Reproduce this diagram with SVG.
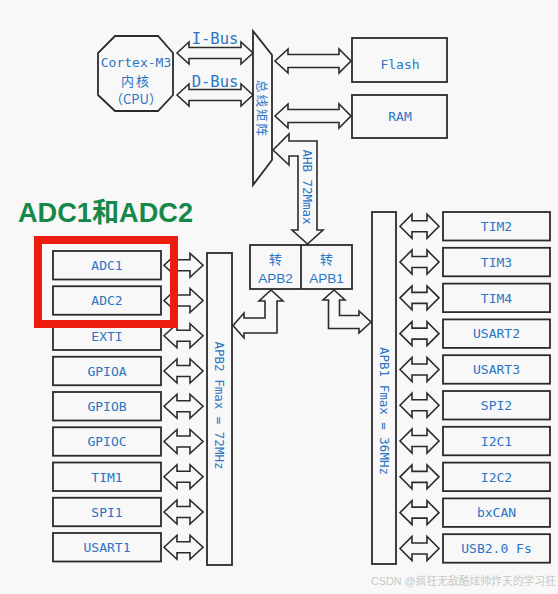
<svg xmlns="http://www.w3.org/2000/svg" width="558" height="594" viewBox="0 0 558 594">
<defs>
<style>
.bx{fill:#f8f8f8;stroke:#2b2b2b;stroke-width:1.8}
.ar{fill:#f8f8f8;stroke:#2b2b2b;stroke-width:1.6;stroke-linejoin:miter}
.t{font-family:"DejaVu Sans Mono","Noto Sans CJK SC",monospace;font-size:13px;fill:#2a75c4;text-anchor:middle}
.v{font-family:"DejaVu Sans Mono","Noto Sans CJK SC",monospace;font-size:12.5px;fill:#2a75c4;text-anchor:middle;dominant-baseline:central}
.cj{font-family:"Noto Sans CJK SC",sans-serif}
</style>
</defs>
<rect width="558" height="594" fill="#f8f8f8"/>

<g id="cpu">
<polygon class="bx" points="115,36 158,36 173,53 173,95 158,111 115,111 98,95 98,53"/>
<text class="t" x="136" y="66.5">Cortex-M3</text>
<text class="t cj" x="136" y="86" style="letter-spacing:2px">内核</text>
<text class="t cj" x="136" y="104">（CPU）</text>
</g>

<g id="bus-matrix">
<polygon class="bx" points="253,31 272,55 272,160 253,185"/>
<text class="v cj" transform="translate(262,109) rotate(90)" style="letter-spacing:2px">总线矩阵</text>
</g>

<g id="flash"><rect class="bx" x="352" y="38" width="95" height="44"/><text class="t" x="400" y="68.5">Flash</text></g>
<g id="ram"><rect class="bx" x="352" y="95" width="95" height="43"/><text class="t" x="400" y="121">RAM</text></g>

<g id="bridge">
<rect class="bx" x="250" y="245" width="102" height="44"/>
<line x1="301" y1="245" x2="301" y2="289" stroke="#2b2b2b" stroke-width="1.8"/>
<text class="t cj" x="275.5" y="264">转</text>
<text class="t" x="275.5" y="282.5" style="font-family:'Liberation Sans',sans-serif;font-size:13.5px">APB2</text>
<text class="t cj" x="326.5" y="264">转</text>
<text class="t" x="326.5" y="282.5" style="font-family:'Liberation Sans',sans-serif;font-size:13.5px">APB1</text>
</g>

<g id="apb2-bus">
<rect class="bx" x="207" y="253" width="25" height="312"/>
<text class="v" transform="translate(219.5,405.5) rotate(90)">APB2 Fmax = 72MHz</text>
</g>
<g id="apb1-bus">
<rect class="bx" x="372" y="212" width="24" height="352"/>
<text class="v" transform="translate(384,411) rotate(90)">APB1 Fmax = 36MHz</text>
</g>

<g id="adc1"><rect class="bx" x="53" y="251" width="108" height="28.5"/><text class="t" x="107" y="270">ADC1</text></g>
<g id="adc2"><rect class="bx" x="53" y="286.25" width="108" height="28.5"/><text class="t" x="107" y="305.25">ADC2</text></g>
<g id="exti"><rect class="bx" x="53" y="321.5" width="108" height="28.5"/><text class="t" x="107" y="340.5">EXTI</text></g>
<g id="gpioa"><rect class="bx" x="53" y="356.75" width="108" height="28.5"/><text class="t" x="107" y="375.75">GPIOA</text></g>
<g id="gpiob"><rect class="bx" x="53" y="392" width="108" height="28.5"/><text class="t" x="107" y="411">GPIOB</text></g>
<g id="gpioc"><rect class="bx" x="53" y="427.25" width="108" height="28.5"/><text class="t" x="107" y="446.25">GPIOC</text></g>
<g id="tim1"><rect class="bx" x="53" y="462.5" width="108" height="28.5"/><text class="t" x="107" y="481.5">TIM1</text></g>
<g id="spi1"><rect class="bx" x="53" y="497.75" width="108" height="28.5"/><text class="t" x="107" y="516.75">SPI1</text></g>
<g id="usart1"><rect class="bx" x="53" y="533" width="108" height="28.5"/><text class="t" x="107" y="552">USART1</text></g>

<g id="tim2"><rect class="bx" x="443" y="212" width="107" height="28.5"/><text class="t" x="496.5" y="231">TIM2</text></g>
<g id="tim3"><rect class="bx" x="443" y="247.8" width="107" height="28.5"/><text class="t" x="496.5" y="266.8">TIM3</text></g>
<g id="tim4"><rect class="bx" x="443" y="283.6" width="107" height="28.5"/><text class="t" x="496.5" y="302.6">TIM4</text></g>
<g id="usart2"><rect class="bx" x="443" y="319.4" width="107" height="28.5"/><text class="t" x="496.5" y="338.4">USART2</text></g>
<g id="usart3"><rect class="bx" x="443" y="355.2" width="107" height="28.5"/><text class="t" x="496.5" y="374.2">USART3</text></g>
<g id="spi2"><rect class="bx" x="443" y="391" width="107" height="28.5"/><text class="t" x="496.5" y="410">SPI2</text></g>
<g id="i2c1"><rect class="bx" x="443" y="426.8" width="107" height="28.5"/><text class="t" x="496.5" y="445.8">I2C1</text></g>
<g id="i2c2"><rect class="bx" x="443" y="462.6" width="107" height="28.5"/><text class="t" x="496.5" y="481.6">I2C2</text></g>
<g id="bxcan"><rect class="bx" x="443" y="498.4" width="107" height="28.5"/><text class="t" x="496.5" y="517.4">bxCAN</text></g>
<g id="usb"><rect class="bx" x="443" y="534.2" width="107" height="28.5"/><text class="t" x="496.5" y="553.2">USB2.0 Fs</text></g>

<g id="connectors">
<path class="ar" d="M177,53 L189,42 L189,47.5 L241,47.5 L241,42 L253,53 L241,64 L241,58.5 L189,58.5 L189,64 Z"/>
<path class="ar" d="M177,95 L189,84 L189,89.5 L241,89.5 L241,84 L253,95 L241,106 L241,100.5 L189,100.5 L189,106 Z"/>
<path class="ar" d="M275,61 L288,49 L288,54.5 L339,54.5 L339,49 L351,61 L339,73 L339,67.5 L288,67.5 L288,73 Z"/>
<path class="ar" d="M275,116 L288,104 L288,109.5 L339,109.5 L339,104 L351,116 L339,128 L339,122.5 L288,122.5 L288,128 Z"/>
<path class="ar" d="M273,150 L289,134 L289,141 L317,141 L317,230 L323,230 L307.5,244 L292,230 L298,230 L298,156 L289,156 L289,165 Z"/>
<path class="ar" d="M271,290 L283,301 L277,301 L277,333 L244,333 L244,338 L233,325.5 L244,313 L244,318 L265,318 L265,301 L259,301 Z"/>
<path class="ar" d="M334,290 L345,300 L339.5,300 L339.5,315.5 L359,315.5 L359,311 L371,322 L359,333 L359,328.5 L328.5,328.5 L328.5,300 L323,300 Z"/>
<g id="apb2-arrows">
<path class="ar" d="M164,265.25 L177,253.25 L177,259.75 L190,259.75 L190,253.25 L203,265.25 L190,277.25 L190,270.75 L177,270.75 L177,277.25 Z"/>
<path class="ar" transform="translate(0,35.25)" d="M164,265.25 L177,253.25 L177,259.75 L190,259.75 L190,253.25 L203,265.25 L190,277.25 L190,270.75 L177,270.75 L177,277.25 Z"/>
<path class="ar" transform="translate(0,70.5)" d="M164,265.25 L177,253.25 L177,259.75 L190,259.75 L190,253.25 L203,265.25 L190,277.25 L190,270.75 L177,270.75 L177,277.25 Z"/>
<path class="ar" transform="translate(0,105.75)" d="M164,265.25 L177,253.25 L177,259.75 L190,259.75 L190,253.25 L203,265.25 L190,277.25 L190,270.75 L177,270.75 L177,277.25 Z"/>
<path class="ar" transform="translate(0,141)" d="M164,265.25 L177,253.25 L177,259.75 L190,259.75 L190,253.25 L203,265.25 L190,277.25 L190,270.75 L177,270.75 L177,277.25 Z"/>
<path class="ar" transform="translate(0,176.25)" d="M164,265.25 L177,253.25 L177,259.75 L190,259.75 L190,253.25 L203,265.25 L190,277.25 L190,270.75 L177,270.75 L177,277.25 Z"/>
<path class="ar" transform="translate(0,211.5)" d="M164,265.25 L177,253.25 L177,259.75 L190,259.75 L190,253.25 L203,265.25 L190,277.25 L190,270.75 L177,270.75 L177,277.25 Z"/>
<path class="ar" transform="translate(0,246.75)" d="M164,265.25 L177,253.25 L177,259.75 L190,259.75 L190,253.25 L203,265.25 L190,277.25 L190,270.75 L177,270.75 L177,277.25 Z"/>
<path class="ar" transform="translate(0,282)" d="M164,265.25 L177,253.25 L177,259.75 L190,259.75 L190,253.25 L203,265.25 L190,277.25 L190,270.75 L177,270.75 L177,277.25 Z"/>
</g>
<g id="apb1-arrows">
<path class="ar" d="M400,226.25 L412,214.25 L412,220.75 L427,220.75 L427,214.25 L439,226.25 L427,238.25 L427,231.75 L412,231.75 L412,238.25 Z"/>
<path class="ar" transform="translate(0,35.8)" d="M400,226.25 L412,214.25 L412,220.75 L427,220.75 L427,214.25 L439,226.25 L427,238.25 L427,231.75 L412,231.75 L412,238.25 Z"/>
<path class="ar" transform="translate(0,71.6)" d="M400,226.25 L412,214.25 L412,220.75 L427,220.75 L427,214.25 L439,226.25 L427,238.25 L427,231.75 L412,231.75 L412,238.25 Z"/>
<path class="ar" transform="translate(0,107.4)" d="M400,226.25 L412,214.25 L412,220.75 L427,220.75 L427,214.25 L439,226.25 L427,238.25 L427,231.75 L412,231.75 L412,238.25 Z"/>
<path class="ar" transform="translate(0,143.2)" d="M400,226.25 L412,214.25 L412,220.75 L427,220.75 L427,214.25 L439,226.25 L427,238.25 L427,231.75 L412,231.75 L412,238.25 Z"/>
<path class="ar" transform="translate(0,179)" d="M400,226.25 L412,214.25 L412,220.75 L427,220.75 L427,214.25 L439,226.25 L427,238.25 L427,231.75 L412,231.75 L412,238.25 Z"/>
<path class="ar" transform="translate(0,214.8)" d="M400,226.25 L412,214.25 L412,220.75 L427,220.75 L427,214.25 L439,226.25 L427,238.25 L427,231.75 L412,231.75 L412,238.25 Z"/>
<path class="ar" transform="translate(0,250.6)" d="M400,226.25 L412,214.25 L412,220.75 L427,220.75 L427,214.25 L439,226.25 L427,238.25 L427,231.75 L412,231.75 L412,238.25 Z"/>
<path class="ar" transform="translate(0,286.4)" d="M400,226.25 L412,214.25 L412,220.75 L427,220.75 L427,214.25 L439,226.25 L427,238.25 L427,231.75 L412,231.75 L412,238.25 Z"/>
<path class="ar" transform="translate(0,322.2)" d="M400,226.25 L412,214.25 L412,220.75 L427,220.75 L427,214.25 L439,226.25 L427,238.25 L427,231.75 L412,231.75 L412,238.25 Z"/>
</g>
<text class="t" x="215" y="44" style="font-size:15.5px">I-Bus</text>
<text class="t" x="215" y="87" style="font-size:15.5px">D-Bus</text>
<text class="v" transform="translate(307.5,187) rotate(90)">AHB 72Mmax</text>
</g>

<rect x="38" y="240" width="136" height="84" fill="none" stroke="#ee1b0f" stroke-width="8"/>
<text x="18" y="222" font-family="Liberation Sans,Noto Sans CJK SC,sans-serif" font-weight="bold" font-size="27" fill="#16884a" textLength="175" lengthAdjust="spacingAndGlyphs">ADC1和ADC2</text>
<text x="371" y="585" font-family="Liberation Sans,Noto Sans CJK SC,sans-serif" font-size="10.8" fill="#c8c8c8">CSDN @疯狂无敌酷炫帅炸天的学习狂</text>
</svg>
